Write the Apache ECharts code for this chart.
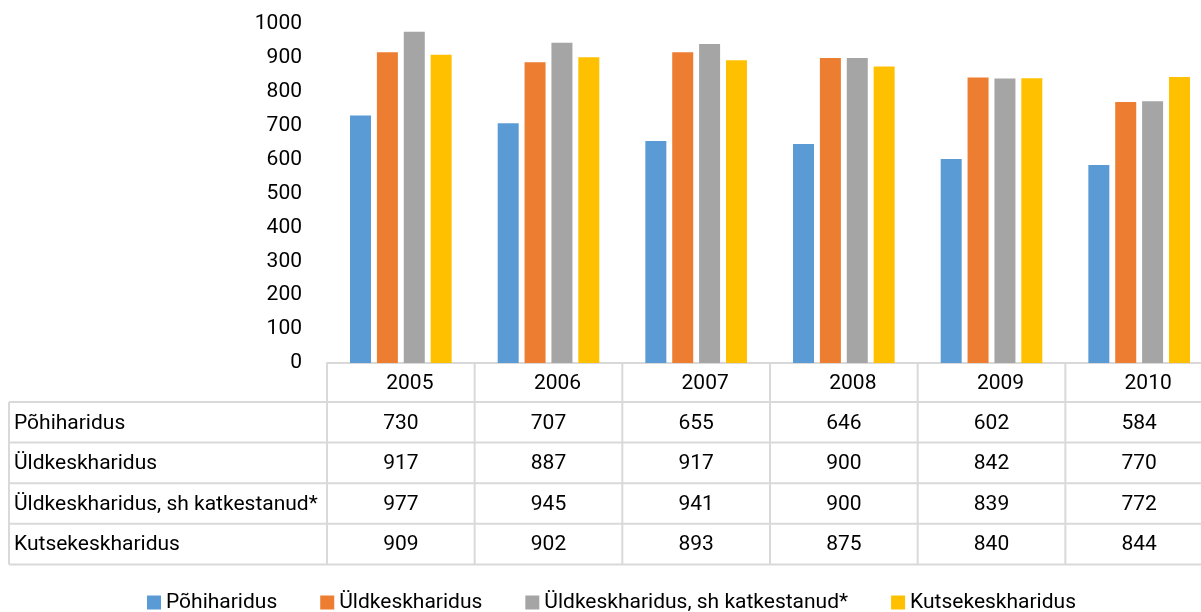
<!DOCTYPE html>
<html>
<head>
<meta charset="utf-8">
<script src="https://cdn.jsdelivr.net/npm/echarts@6/dist/echarts.min.js"></script>
<style>
  html, body { margin: 0; padding: 0; background: #fff; }
  #chart { width: 1201px; height: 612px; }
</style>
</head>
<body>
<div id="chart"></div>
<script>
const years = ['2005', '2006', '2007', '2008', '2009', '2010'];
const seriesNames = ['Põhiharidus', 'Üldkeskharidus', 'Üldkeskharidus, sh katkestanud*', 'Kutsekeskharidus'];
const pohiharidus = [730, 707, 655, 646, 602, 584];
const uldkesk = [917, 887, 917, 900, 842, 770];
const uldkeskKatk = [977, 945, 941, 900, 839, 772];
const kutsekesk = [909, 902, 893, 875, 840, 844];
const colors = ['#5b9bd5', '#ed7d31', '#a5a5a5', '#ffc000'];
const yTicks = [0, 100, 200, 300, 400, 500, 600, 700, 800, 900, 1000];

const allSeries = [pohiharidus, uldkesk, uldkeskKatk, kutsekesk];
const FONT = 'Roboto';
const FS = 21;
const lineColor = '#d9d9d9';

const chart = echarts.init(document.getElementById('chart'));

const option = {
  animation: false,
  textStyle: { fontFamily: FONT },
  grid: { left: 327, top: 24, width: 886, height: 339, outerBoundsMode: 'none', containLabel: false },
  legend: {
    top: 587,
    left: 142,
    icon: 'rect',
    itemWidth: 14,
    itemHeight: 14,
    itemGap: 43,
    textStyle: { fontSize: FS, color: '#000', fontFamily: FONT },
    data: seriesNames
  },
  xAxis: {
    type: 'category',
    data: years,
    axisLine: { show: true, lineStyle: { color: lineColor, width: 2 } },
    axisTick: { show: false },
    axisLabel: { fontSize: FS, color: '#000', margin: 10, padding: [0, 0, 0, 18] }
  },
  yAxis: {
    type: 'value',
    min: yTicks[0],
    max: yTicks[yTicks.length - 1],
    interval: 100,
    axisLine: { show: false },
    axisTick: { show: false },
    splitLine: { show: false },
    axisLabel: { fontSize: FS, color: '#000', margin: 25, padding: [3, 0, 0, 0], formatter: v => String(v) }
  },
  series: allSeries.map((vals, i) => ({
    name: seriesNames[i],
    type: 'bar',
    data: vals,
    barWidth: 21,
    barGap: '28%',
    itemStyle: { color: colors[i] }
  }))
};
chart.setOption(option);

// data table under the plot, laid out from the category axis
function buildTable() {
  const c0 = chart.convertToPixel({ xAxisIndex: 0 }, 0);
  const c1 = chart.convertToPixel({ xAxisIndex: 0 }, 1);
  const band = c1 - c0;
  const axisY = chart.convertToPixel({ yAxisIndex: 0 }, 0);
  const headerH = 39;
  const rowH = 40.6;
  const tableLeft = 9;
  const firstCol = c0 - band / 2;
  const rowsTop = axisY + headerH;
  const bottom = rowsTop + rowH * allSeries.length;
  const right = 1201;
  const els = [];
  const line = (x1, y1, x2, y2) => els.push({
    type: 'line', shape: { x1, y1, x2, y2 },
    style: { stroke: lineColor, lineWidth: 2 }, silent: true
  });
  // horizontal rules
  for (let r = 0; r <= allSeries.length; r++) {
    const y = rowsTop + r * rowH;
    line(tableLeft, y, right, y);
  }
  // vertical rules
  line(tableLeft, rowsTop, tableLeft, bottom);
  for (let i = 0; i <= years.length; i++) {
    const x = firstCol + i * band;
    line(x, axisY, x, bottom);
  }
  // row labels and values
  allSeries.forEach((vals, r) => {
    const cy = rowsTop + r * rowH + rowH / 2 + 1;
    els.push({
      type: 'text', x: 14, y: cy,
      style: { text: seriesNames[r], font: FS + 'px ' + FONT, fill: '#000', verticalAlign: 'middle', align: 'left' }
    });
    vals.forEach((v, i) => {
      els.push({
        type: 'text', x: firstCol + (i + 0.5) * band, y: cy,
        style: { text: String(v), font: FS + 'px ' + FONT, fill: '#000', verticalAlign: 'middle', align: 'center' }
      });
    });
  });
  chart.setOption({ graphic: { elements: els } });
}
buildTable();
</script>
</body>
</html>
